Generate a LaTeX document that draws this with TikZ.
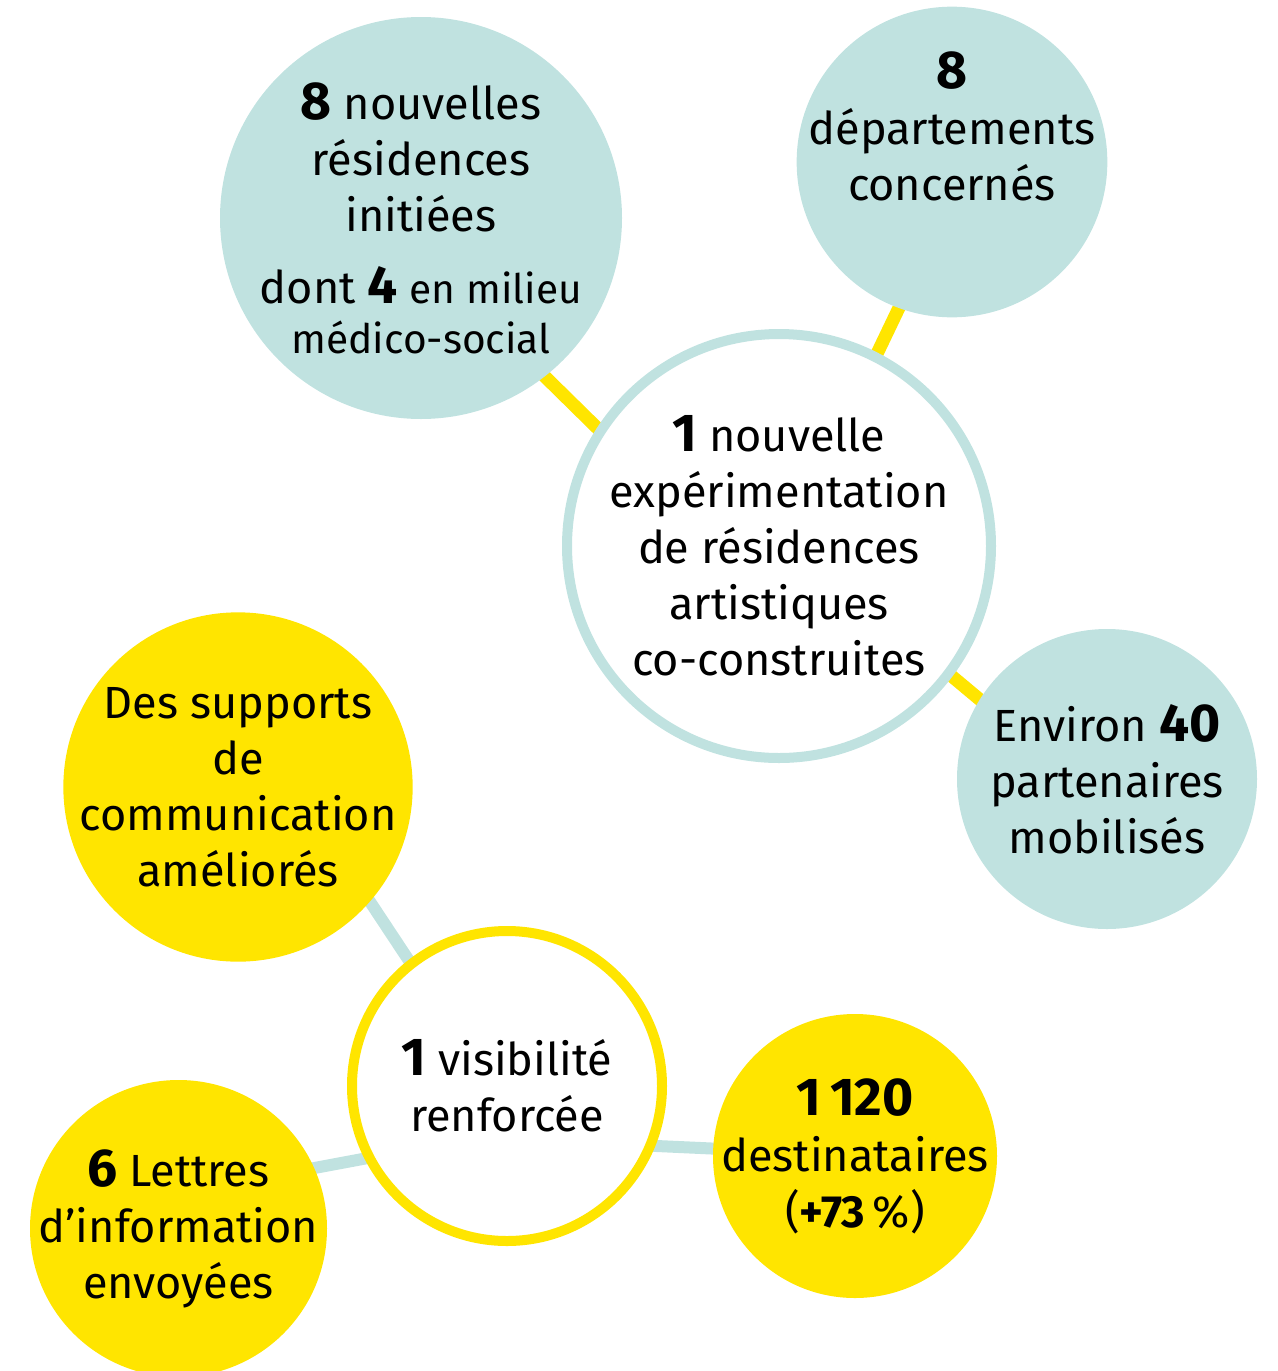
\documentclass[tikz,border=0pt]{standalone}
\usepackage{fontspec}
\setmainfont{Fira Sans}
\usepackage{tikz}
\usetikzlibrary{backgrounds}
\definecolor{bulle}{HTML}{C0E2E0}
\definecolor{jaune}{HTML}{FFE500}
\newcommand{\chiffre}[1]{{\fontsize{40}{42}\selectfont\bfseries #1}}
\newcommand{\petit}{\fontsize{30.5}{37.5}\selectfont}

\begin{document}
\begin{tikzpicture}[x=0.75pt, y=-0.75pt,
  every node/.style={circle, inner sep=0pt, align=center,
                     font=\fontsize{33.8}{42}\selectfont},
  texte/.style={label={center:{#1}}},
  bulle bleue/.style={fill=bulle},
  bulle jaune/.style={fill=jaune},
  anneau/.style={fill=white, line width=7.5pt},
  lien jaune/.style={draw=jaune, line width=9.75pt, shorten <=-6pt, shorten >=-6pt},
  lien bleu/.style={draw=bulle, line width=9pt, shorten <=-6pt, shorten >=-6pt}]
\useasboundingbox (0,0) rectangle (1278,1371);
%
\node[bulle bleue, minimum size=301.5pt,
  texte={\chiffre{8} nouvelles\\résidences\\initiées\\[12pt]dont \chiffre{4} {\petit en milieu}\\[-4.5pt]{\petit médico-social}}]
  (residences) at (421,218) {};
\node[bulle bleue, minimum size=233pt,
  texte={\chiffre{8}\\départements\\concernés\\ \strut}]
  (departements) at (952,162) {};
\node[anneau, draw=bulle, minimum size=318pt,
  texte={\chiffre{1} nouvelle\\expérimentation\\de résidences\\artistiques\\co-construites}]
  (experimentation) at (779,546) {};
\node[bulle bleue, minimum size=225pt,
  texte={Environ \chiffre{40}\\partenaires\\mobilisés}]
  (partenaires) at (1107,779) {};
%
\node[bulle jaune, minimum size=262pt,
  texte={Des supports\\de\\communication\\améliorés}]
  (supports) at (238,787) {};
\node[anneau, draw=jaune, minimum size=232.5pt,
  texte={\chiffre{1} visibilité\\renforcée}]
  (visibilite) at (507,1086) {};
\node[bulle jaune, minimum size=222.75pt,
  texte={\chiffre{6} Lettres\\d’information\\envoyées}]
  (lettres) at (178.5,1228.5) {};
\node[bulle jaune, minimum size=213pt,
  texte={\chiffre{1\,120}\\destinataires\\(\textbf{+73}\,\%)}]
  (destinataires) at (855,1156) {};
%
\begin{scope}[on background layer]
\draw[lien jaune] (residences.-52) -- (experimentation.147);
\draw[lien jaune] (departements.-110) -- (experimentation.63);
\draw[lien jaune] (experimentation.-37) -- (partenaires.148);
\draw[lien bleu] (supports.-41) -- (visibilite.128);
\draw[lien bleu] (lettres.24) -- (visibilite.207);
\draw[lien bleu] (visibilite.-22) -- (destinataires.177);
\end{scope}
\end{tikzpicture}
\end{document}
